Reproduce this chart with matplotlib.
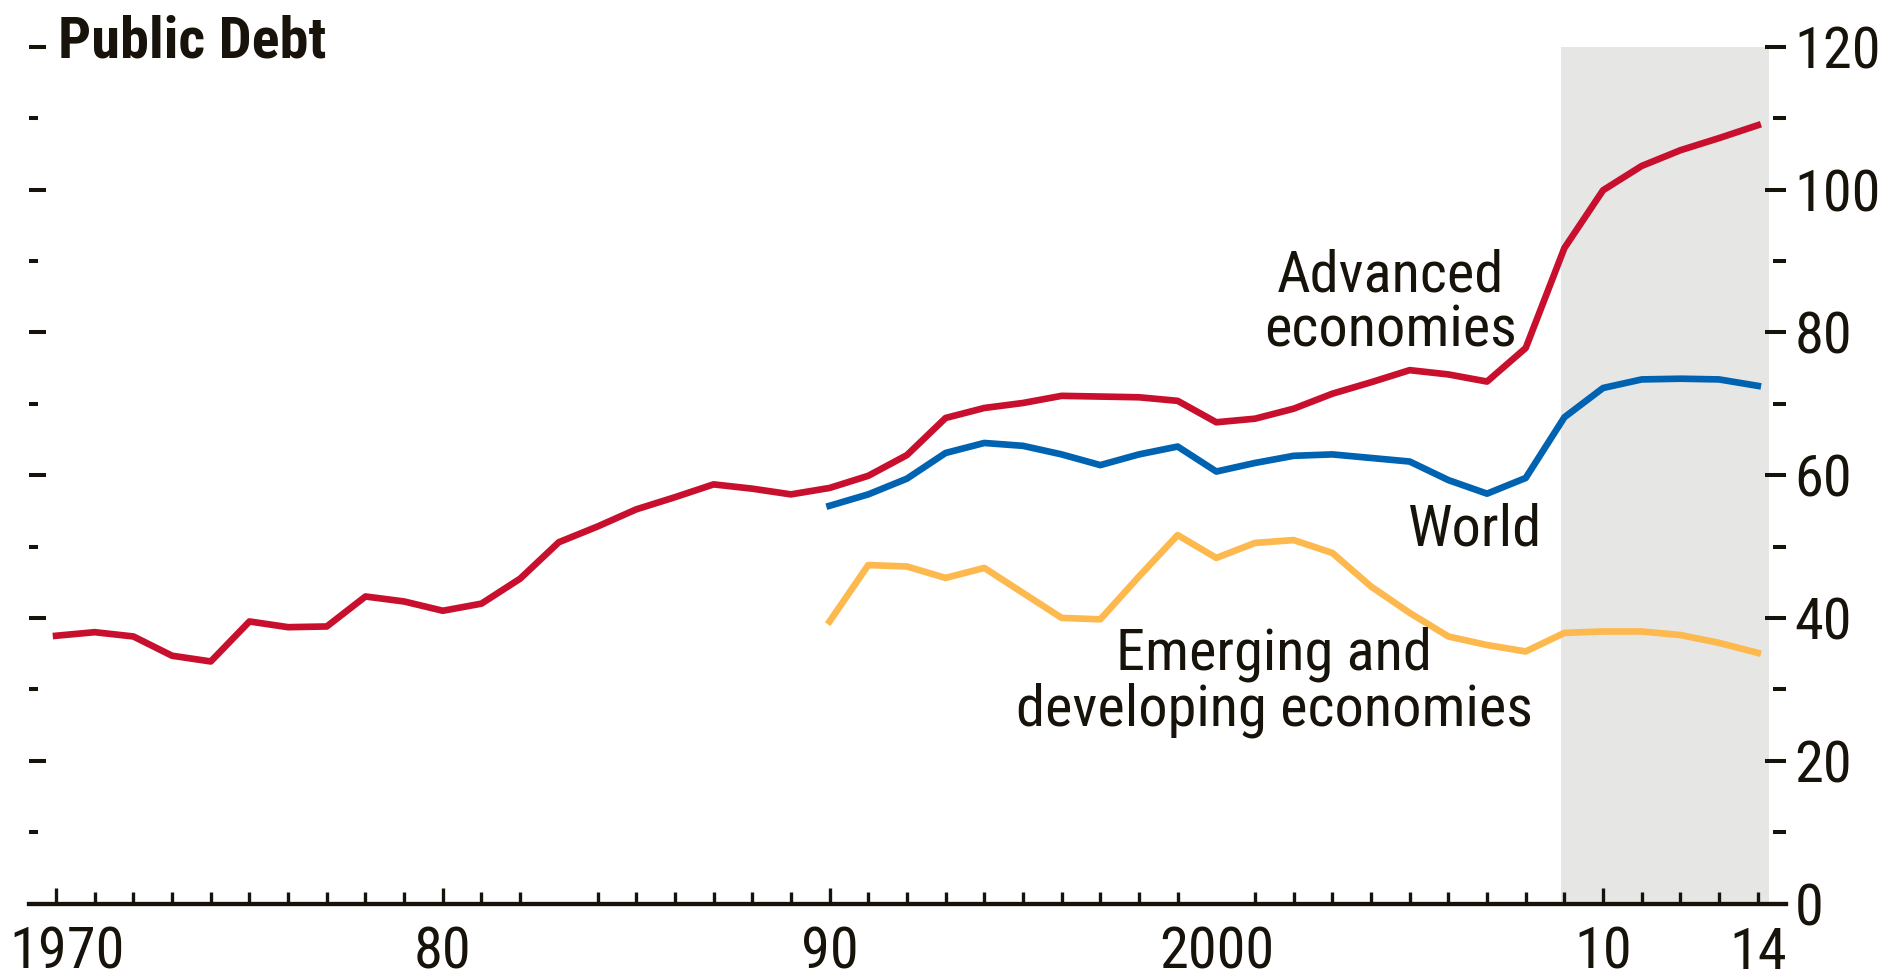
import os
import matplotlib as mpl
import matplotlib.pyplot as plt
import matplotlib.transforms as mtransforms
from matplotlib import font_manager as fm
import numpy as np

# data, percent of GDP
years_adv = np.arange(1970, 2015)
advanced = [37.5, 38.0, 37.4, 34.7, 33.9, 39.5, 38.7, 38.8, 43.0, 42.3,
            41.0, 42.0, 45.5, 50.6, 52.8, 55.2, 56.9, 58.7, 58.1, 57.3,
            58.2, 59.9, 62.8, 68.0, 69.4, 70.1, 71.1, 71.0, 70.9, 70.4,
            67.4, 67.9, 69.3, 71.4, 73.0, 74.7, 74.1, 73.1, 77.8, 91.8,
            99.9, 103.3, 105.5, 107.2, 109.0]

years_em = np.arange(1990, 2015)
world = [55.7, 57.3, 59.5, 63.1, 64.5, 64.1, 62.9, 61.4, 62.9, 64.0,
         60.5, 61.7, 62.7, 62.9, 62.4, 61.9, 59.3, 57.4, 59.6, 68.1,
         72.2, 73.4, 73.5, 73.4, 72.5]
emerging = [39.5, 47.4, 47.2, 45.6, 47.0, 43.5, 40.0, 39.8, 45.8, 51.6,
            48.4, 50.5, 50.9, 49.1, 44.4, 40.7, 37.4, 36.2, 35.3, 37.9,
            38.1, 38.1, 37.6, 36.5, 35.1]

label_years = [1970, 1980, 1990, 2000, 2010, 2014]
label_text = ['1970', '80', '90', '2000', '10', '14']
minor_years = [y for y in range(1971, 2014) if y not in (1980, 1990, 2000, 2010, 1983)]
y_major = [0, 20, 40, 60, 80, 100, 120]
y_minor = [10, 30, 50, 70, 90, 110]


# look for a narrow / condensed sans face
def find_narrow():
    prio = ['liberation sans narrow', 'arial narrow', 'noto sans', 'roboto',
            'open sans', 'dejavu sans']
    best = None
    for f in fm.fontManager.ttflist:
        n = f.name.lower()
        fn = os.path.basename(f.fname).lower()
        st = str(f.stretch).lower()
        narrow = ('narrow' in n or 'condensed' in n or 'narrow' in fn
                  or 'condensed' in fn or 'condensed' in st)
        if not narrow or f.style != 'normal' or 'semicondensed' in fn \
                or 'extracondensed' in fn or 'semi' in st or 'extra' in st:
            continue
        rank = len(prio)
        for i, p in enumerate(prio):
            if n.startswith(p):
                rank = i
                break
        if best is None or rank < best[0]:
            best = (rank, f.name, f.stretch)
    return best


narrow = find_narrow()
if narrow is not None:
    mpl.rcParams['font.family'] = [narrow[1], 'DejaVu Sans']
    mpl.rcParams['font.stretch'] = narrow[2]
    fs = 42
    title_fs = 42
else:
    mpl.rcParams['font.family'] = ['Liberation Sans', 'DejaVu Sans']
    fs = 36
    title_fs = 36

ink = '#17130b'
red = '#c8102e'
blue = '#0063b1'
orange = '#fdb94e'

fig = plt.figure(figsize=(18.83, 9.8), dpi=100)
ax = fig.add_axes([29 / 1883, 76.5 / 980, 1757 / 1883, 856.8 / 980])
ax2 = ax.twinx()

ax.axvspan(2008.9, 2014.3, color='#e6e6e5', lw=0, zorder=0)
ax.plot(years_adv, advanced, color=red, lw=4.8, zorder=3)
ax.plot(years_em, world, color=blue, lw=4.8, zorder=3)
ax.plot(years_em, emerging, color=orange, lw=4.8, zorder=3)

ax.set_xlim(1969.3, 2014.73)
ax.set_ylim(0, 120)
ax2.set_ylim(0, 120)

for a in (ax, ax2):
    for s in ('top', 'left', 'right'):
        a.spines[s].set_visible(False)
ax2.spines['bottom'].set_visible(False)
ax.spines['bottom'].set_linewidth(3.1)
ax.spines['bottom'].set_color(ink)

# x ticks
ax.set_xticks(label_years)
ax.set_xticklabels(label_text)
ax.set_xticks(minor_years, minor=True)
ax.tick_params(axis='x', which='major', direction='in', length=11.5, width=2.4,
               color=ink, pad=16, labelsize=fs, labelcolor=ink)
ax.tick_params(axis='x', which='minor', direction='in', length=8.5, width=2.4, color=ink)
xt = ax.xaxis.get_major_ticks()
xt[3].tick1line.set_visible(False)
xt[5].tick1line.set_markersize(8.5)
shift = mtransforms.ScaledTranslation(11 / 100, 0, fig.dpi_scale_trans)
xt[0].label1.set_transform(xt[0].label1.get_transform() + shift)

# left ticks, no labels
ax.set_yticks(y_major)
ax.set_yticks(y_minor, minor=True)
ax.tick_params(axis='y', which='major', direction='in', length=12.5, width=2.9,
               color=ink, labelleft=False)
ax.tick_params(axis='y', which='minor', direction='in', length=6.5, width=2.9, color=ink)

# right ticks with labels
ax2.set_yticks(y_major)
ax2.set_yticks(y_minor, minor=True)
ax2.tick_params(axis='y', which='major', direction='in', length=15, width=2.9,
                color=ink, pad=6, labelsize=fs, labelcolor=ink)
ax2.tick_params(axis='y', which='minor', direction='in', length=9.4, width=2.9, color=ink)
ax2.tick_params(axis='x', bottom=False, labelbottom=False)

ax.text(2004.5, 84.0, 'Advanced\neconomies', ha='center', va='center',
        fontsize=fs, color=ink, linespacing=1.0, zorder=4)
ax.text(2006.7, 52.3, 'World', ha='center', va='center',
        fontsize=fs, color=ink, zorder=4)
ax.text(2001.5, 31.0, 'Emerging and\ndeveloping economies', ha='center', va='center',
        fontsize=fs, color=ink, linespacing=1.0, zorder=4)

fig.text(58 / 1883, 1 - 58 / 980, 'Public Debt', ha='left', va='baseline',
         fontsize=title_fs, fontweight='bold', color=ink)

fig.savefig('out.png', dpi=100)
